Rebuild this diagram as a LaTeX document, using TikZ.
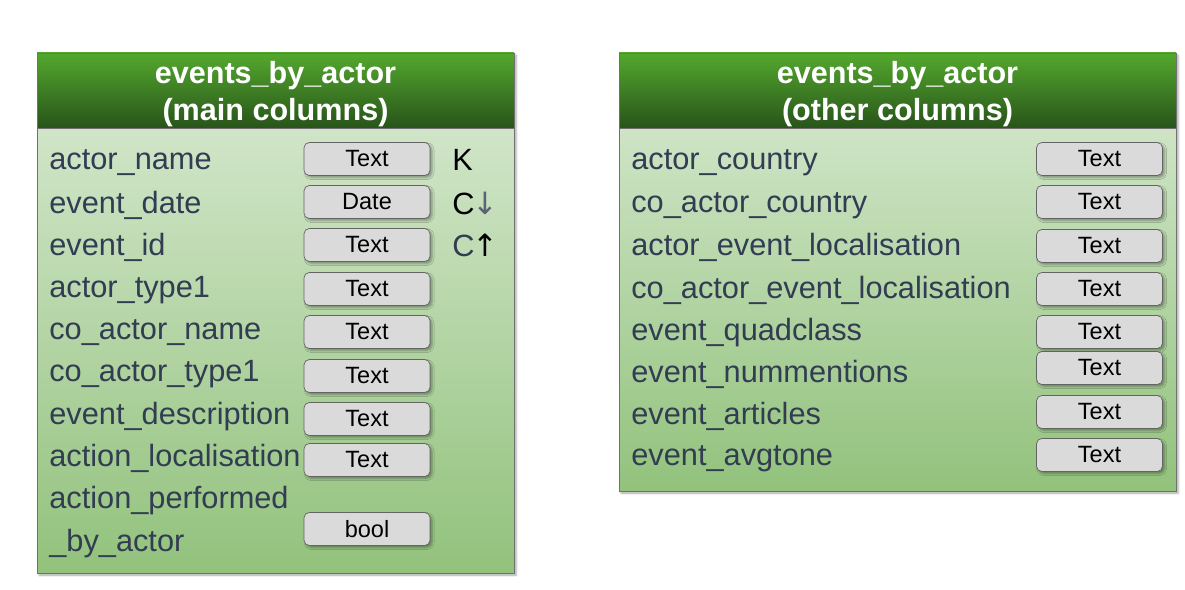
\documentclass[tikz,border=0pt]{standalone}
\usepackage{fontspec}
\setmainfont{Liberation Sans}
\newfontfamily\arrowfont{DejaVu Sans}
\usetikzlibrary{shadows.blur}

\definecolor{headtop}{RGB}{84,168,46}
\definecolor{headbot}{RGB}{40,84,26}
\definecolor{bodytop}{RGB}{219,235,213}
\definecolor{bodybot}{RGB}{146,194,124}
\definecolor{panelline}{RGB}{112,112,112}
\definecolor{fieldtxt}{RGB}{50,60,82}
\definecolor{boxfill}{RGB}{218,218,218}
\definecolor{boxline}{RGB}{100,100,100}

\tikzset{
  softshadow/.style={blur shadow={shadow xshift=1.2pt, shadow yshift=-1.2pt,
      shadow blur radius=1.2pt, shadow opacity=35}},
  panelhead/.style={draw=panelline, top color=headtop, bottom color=headbot},
  panelbody/.style={draw=panelline, top color=bodytop, bottom color=bodybot},
  headtxt/.style={text=white, align=center, font=\fontsize{17.4}{21}\selectfont\bfseries},
  fieldname/.style={anchor=west, inner sep=0pt, yshift=-0.07cm, text=fieldtxt,
      font=\fontsize{17.5}{20}\selectfont},
  typebox/.style={draw=boxline, fill=boxfill, rounded corners=3pt, softshadow,
      minimum width=2.52cm, minimum height=0.66cm, inner sep=0pt,
      font=\fontsize{13.4}{16}\selectfont},
  keytxt/.style={anchor=west, inner sep=0pt, font=\fontsize{17.5}{20}\selectfont}
}

\begin{document}
\begin{tikzpicture}[x=0.02cm, y=-0.02cm]
  \useasboundingbox (0,0) rectangle (1185,590);

  % left panel
  \draw[panelbody, softshadow] (37,53) rectangle (514,573);
  \draw[panelhead] (37,53) rectangle (514,128);
  \node[headtxt] (lhead) at (275.5,94) {events\_by\_actor\\(main columns)};

  \foreach \name/\y [count=\i] in {actor\_name/159, event\_date/202, event\_id/244,
      actor\_type1/287, co\_actor\_name/329, co\_actor\_type1/371,
      event\_description/413, action\_localisation/455, action\_performed/497,
      \_by\_actor/540}
    \node[fieldname] (lfield\i) at (49,\y) {\name};

  \foreach \type/\y [count=\i] in {Text/159, Date/202, Text/245, Text/289, Text/332,
      Text/376, Text/419, Text/460, bool/529}
    \node[typebox] (ltype\i) at (367,\y) {\type};

  % key markers
  \node[keytxt] (kpart) at (452,160) {K};
  \node[keytxt] (cdown) at (452,203) {C\kern-1pt\textcolor{fieldtxt!80}{\arrowfont ↓}};
  \node[keytxt] (cup) at (452,245) {\textcolor{fieldtxt}{C}\kern-1pt{\arrowfont ↑}};

  % right panel
  \draw[panelbody, softshadow] (619,53) rectangle (1176,491);
  \draw[panelhead] (619,53) rectangle (1176,128);
  \node[headtxt] (rhead) at (897.5,94) {events\_by\_actor\\(other columns)};

  \foreach \name/\y [count=\i] in {actor\_country/159, co\_actor\_country/202,
      actor\_event\_localisation/244, co\_actor\_event\_localisation/287,
      event\_quadclass/329, event\_nummentions/371, event\_articles/413,
      event\_avgtone/455}
    \node[fieldname] (rfield\i) at (631,\y) {\name};

  \foreach \y [count=\i] in {159, 202, 246, 289, 332, 368, 412, 455}
    \node[typebox] (rtype\i) at (1099.5,\y) {Text};

\end{tikzpicture}
\end{document}
